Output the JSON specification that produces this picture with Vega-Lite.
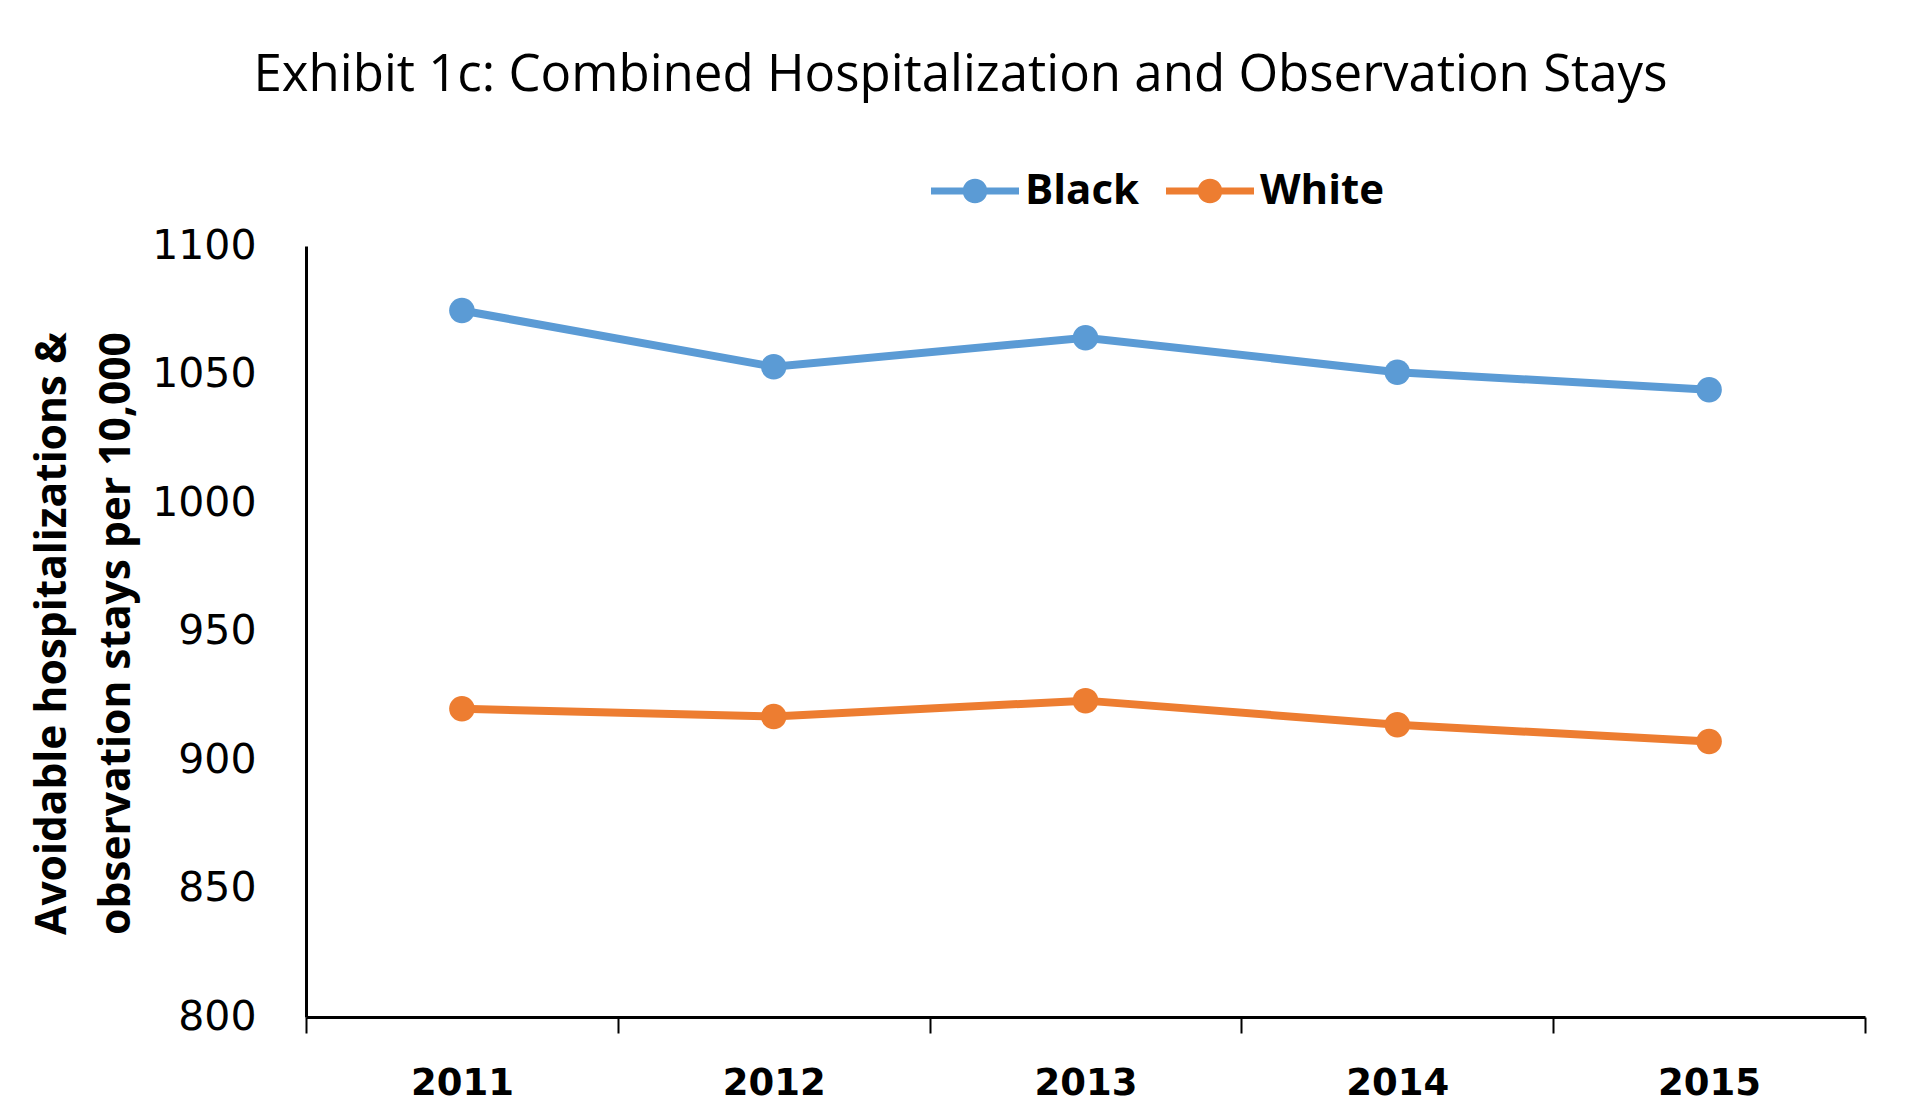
{
  "$schema": "https://vega.github.io/schema/vega-lite/v6.json",
  "autosize": {"type": "none"},
  "padding": {"left": 306, "top": 246, "right": 55, "bottom": 95},
  "width": 1559,
  "height": 771,
  "background": "white",
  "title": {
    "text": "Exhibit 1c: Combined Hospitalization and Observation Stays",
    "font": "Open Sans",
    "fontSize": 51,
    "fontWeight": "normal",
    "color": "#000000",
    "baseline": "alphabetic",
    "anchor": "middle",
    "frame": "bounds",
    "offset": 5,
    "dx": 12
  },
  "data": {
    "values": [
      {"year": "2011", "group": "Black", "value": 1074.9},
      {"year": "2012", "group": "Black", "value": 1053.0},
      {"year": "2013", "group": "Black", "value": 1064.3},
      {"year": "2014", "group": "Black", "value": 1050.9},
      {"year": "2015", "group": "Black", "value": 1044.1},
      {"year": "2011", "group": "White", "value": 919.9},
      {"year": "2012", "group": "White", "value": 916.9},
      {"year": "2013", "group": "White", "value": 923.1},
      {"year": "2014", "group": "White", "value": 913.7},
      {"year": "2015", "group": "White", "value": 907.2}
    ]
  },
  "mark": {"type": "line", "strokeWidth": 8, "point": {"filled": true, "size": 650}},
  "encoding": {
    "x": {
      "field": "year",
      "type": "ordinal",
      "scale": {"type": "band", "paddingInner": 0, "paddingOuter": 0},
      "axis": {
        "title": null,
        "labelAngle": 0,
        "labelFont": "DejaVu Sans",
        "labelFontSize": 37,
        "labelFontWeight": "bold",
        "labelColor": "#000000",
        "labelPadding": 32,
        "labelBaseline": "top",
        "tickBand": "extent",
        "tickSize": 16,
        "tickWidth": 2,
        "tickColor": "#000000",
        "domainColor": "#000000",
        "domainWidth": 3,
        "grid": false
      }
    },
    "y": {
      "field": "value",
      "type": "quantitative",
      "scale": {"domain": [800, 1100], "nice": false, "zero": false},
      "axis": {
        "values": [800, 850, 900, 950, 1000, 1050, 1100],
        "format": "d",
        "title": ["Avoidable hospitalizations &", "observation stays per 10,000"],
        "titleFont": "Open Sans",
        "titleFontSize": 42.5,
        "titleFontWeight": "bold",
        "titleColor": "#000000",
        "titleAngle": -90,
        "titleAlign": "center",
        "titleBaseline": "middle",
        "titleLineHeight": 64,
        "titleX": -254,
        "titleY": 387,
        "labelFont": "DejaVu Sans",
        "labelFontSize": 41,
        "labelColor": "#000000",
        "labelPadding": 50,
        "ticks": false,
        "domainColor": "#000000",
        "domainWidth": 3,
        "grid": false
      }
    },
    "color": {
      "field": "group",
      "type": "nominal",
      "scale": {"domain": ["Black", "White"], "range": ["#5B9BD5", "#ED7D31"]},
      "legend": {
        "title": null,
        "orient": "none",
        "direction": "horizontal",
        "legendX": 625,
        "legendY": -99,
        "padding": 0,
        "symbolType": "M-1,-0.08H1V0.08H-1Z M0.28,0A0.28,0.28 0 1,1 -0.28,0A0.28,0.28 0 1,1 0.28,0Z",
        "symbolSize": 7744,
        "symbolStrokeWidth": 0,
        "symbolOpacity": 1,
        "labelFont": "Open Sans",
        "labelFontSize": 42,
        "labelFontWeight": "bold",
        "labelColor": "#000000",
        "labelOffset": 6,
        "columnPadding": 26,
        "encode": {
          "symbols": {
            "update": {
              "fill": {"scale": "color", "field": "value"},
              "stroke": {"value": "transparent"}
            }
          }
        }
      }
    }
  },
  "config": {"view": {"stroke": null}}
}
